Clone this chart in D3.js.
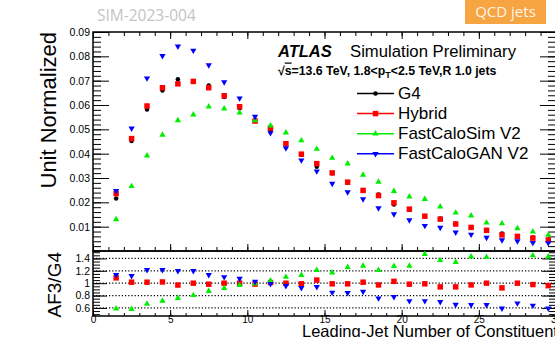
<!DOCTYPE html>
<html>
<head>
<meta charset="utf-8">
<script src="https://cdn.jsdelivr.net/npm/d3@7"></script>
<style>
  body { margin: 0; background: #fff; }
  text { font-family: "Liberation Sans", Arial, sans-serif; }
</style>
</head>
<body>
<svg id="chart" width="555" height="337"></svg>
<script>
// bin centres (leading-jet number of constituents)
const binCenters = [1.5, 2.5, 3.5, 4.5, 5.5, 6.5, 7.5, 8.5, 9.5, 10.5, 11.5, 12.5, 13.5, 14.5, 15.5,
    16.5, 17.5, 18.5, 19.5, 20.5, 21.5, 22.5, 23.5, 24.5, 25.5, 26.5, 27.5, 28.5, 29.5];

// unit normalized distributions
const g4 = [0.0216, 0.0452, 0.0582, 0.0660, 0.0706, 0.0695, 0.0680, 0.0633, 0.0587, 0.0536, 0.0496,
    0.0440, 0.0396, 0.0346, 0.0320, 0.0280, 0.0248, 0.0232, 0.0191, 0.0170, 0.0144, 0.0134, 0.0112,
    0.0098, 0.0086, 0.0072, 0.0061, 0.0055, 0.0046];
const hybrid = [0.0236, 0.0462, 0.0596, 0.0671, 0.0687, 0.0697, 0.0671, 0.0638, 0.0593, 0.0534, 0.0505,
    0.0441, 0.0398, 0.0359, 0.0321, 0.0283, 0.0249, 0.0228, 0.0198, 0.0172, 0.0143, 0.0131, 0.0111,
    0.0097, 0.0085, 0.0066, 0.0060, 0.0053, 0.0045];
const fastCaloSim = [0.0130, 0.0266, 0.0392, 0.0477, 0.0537, 0.0560, 0.0593, 0.0585, 0.0568, 0.0537, 0.0515,
    0.0486, 0.0454, 0.0419, 0.0382, 0.0359, 0.0313, 0.0284, 0.0246, 0.0223, 0.0213, 0.0182, 0.0157,
    0.0145, 0.0116, 0.0113, 0.0093, 0.0079, 0.0066];
const fastCaloGAN = [0.0247, 0.0504, 0.0710, 0.0802, 0.0841, 0.0824, 0.0764, 0.0694, 0.0628, 0.0552, 0.0485,
    0.0423, 0.0373, 0.0328, 0.0277, 0.0242, 0.0213, 0.0176, 0.0152, 0.0127, 0.0104, 0.0096, 0.0077,
    0.0068, 0.0055, 0.0045, 0.0041, 0.0034, 0.0033];

// ratios AF3 / G4
const ratioHybrid = [1.086, 1.016, 1.016, 1.02, 0.97, 1.0, 0.984, 1.0, 1.0, 0.985, 1.01, 1.0, 0.99, 1.05,
    0.99, 0.99, 1.016, 0.972, 1.03, 0.984, 0.99, 0.94, 0.94, 0.972, 1.0, 0.924, 1.0, 0.978, 0.96];
const ratioFastCaloSim = [0.59, 0.58, 0.665, 0.713, 0.757, 0.805, 0.87, 0.92, 0.968, 0.99, 1.04, 1.10, 1.13,
    1.21, 1.17, 1.26, 1.28, 1.21, 1.275, 1.28, 1.47, 1.37, 1.34, 1.43, 1.42, 1.58, 1.55, 1.447, 1.43];
const ratioFastCaloGAN = [1.134, 1.12, 1.215, 1.215, 1.2, 1.2, 1.134, 1.10, 1.075, 1.026, 0.99, 0.956, 0.924,
    0.94, 0.85, 0.843, 0.864, 0.757, 0.78, 0.713, 0.713, 0.70, 0.654, 0.65, 0.65, 0.594, 0.676, 0.64, 0.594];

const xTicks = [0, 5, 10, 15, 20, 25, 30];
const yTicksMain = [0.01, 0.02, 0.03, 0.04, 0.05, 0.06, 0.07, 0.08, 0.09];
const yTicksRatio = [0.6, 0.8, 1, 1.2, 1.4];
const legendLabels = ["G4", "Hybrid", "FastCaloSim V2", "FastCaloGAN V2"];

// ---- layout
const LEFT = 93, RIGHT = 556;
const TOP = 32, MID = 251, BOTTOM = 316;

var svg = d3.select("#chart");
svg.append("rect").attr("width", 555).attr("height", 337).attr("fill", "#fff");

var x = d3.scaleLinear().domain([0, 30]).range([LEFT, RIGHT]);
var yMain = d3.scaleLinear().domain([0, 0.09]).range([MID, TOP]);
var yRatio = d3.scaleLinear().domain([0.47, 1.52]).range([BOTTOM, MID]);

function styleAxis(g) {
    g.select(".domain").remove();
    g.selectAll(".tick line").attr("stroke", "#000").attr("stroke-width", 1);
    g.selectAll(".tick text").attr("fill", "#000").style("font-size", "10.5px")
        .style("font-family", "'Liberation Sans', Arial, sans-serif");
}

function minorRange(a, b, step) {
    return d3.range(Math.round(a / step), Math.round(b / step) + 1).map(function (i) { return +(i * step).toFixed(4); });
}

// ---- upper pad axes
svg.append("g").attr("transform", "translate(" + LEFT + ",0)")
    .call(d3.axisLeft(yMain).tickValues(yTicksMain).tickSize(-16).tickPadding(3).tickFormat(d3.format(".2f")))
    .call(styleAxis);
svg.append("g").attr("transform", "translate(" + LEFT + ",0)")
    .call(d3.axisLeft(yMain).tickValues(minorRange(0, 0.09, 0.002)).tickSize(-8).tickFormat(""))
    .call(styleAxis);
svg.append("g").attr("transform", "translate(" + RIGHT + ",0)")
    .call(d3.axisRight(yMain).tickValues(yTicksMain).tickSize(-16).tickFormat(""))
    .call(styleAxis);
svg.append("g").attr("transform", "translate(" + RIGHT + ",0)")
    .call(d3.axisRight(yMain).tickValues(minorRange(0, 0.09, 0.002)).tickSize(-8).tickFormat(""))
    .call(styleAxis);

[[TOP, d3.axisTop], [MID, d3.axisBottom]].forEach(function (p) {
    svg.append("g").attr("transform", "translate(0," + p[0] + ")")
        .call(p[1](x).tickValues(xTicks).tickSize(-7).tickFormat(""))
        .call(styleAxis);
    svg.append("g").attr("transform", "translate(0," + p[0] + ")")
        .call(p[1](x).tickValues(d3.range(0, 31)).tickSize(-4).tickFormat(""))
        .call(styleAxis);
});

// ---- lower pad axes
svg.append("g").attr("transform", "translate(" + LEFT + ",0)")
    .call(d3.axisLeft(yRatio).tickValues(yTicksRatio).tickSize(-14).tickPadding(3).tickFormat(d3.format("")))
    .call(styleAxis);
svg.append("g").attr("transform", "translate(" + LEFT + ",0)")
    .call(d3.axisLeft(yRatio).tickValues(minorRange(0.5, 1.5, 0.05)).tickSize(-7).tickFormat(""))
    .call(styleAxis);
svg.append("g").attr("transform", "translate(" + RIGHT + ",0)")
    .call(d3.axisRight(yRatio).tickValues(yTicksRatio).tickSize(-14).tickFormat(""))
    .call(styleAxis);
svg.append("g").attr("transform", "translate(" + RIGHT + ",0)")
    .call(d3.axisRight(yRatio).tickValues(minorRange(0.5, 1.5, 0.05)).tickSize(-7).tickFormat(""))
    .call(styleAxis);
svg.append("g").attr("transform", "translate(0," + BOTTOM + ")")
    .call(d3.axisBottom(x).tickValues(xTicks).tickSize(-6).tickPadding(0).tickFormat(d3.format("d")))
    .call(styleAxis)
    .call(function (g) { g.selectAll(".tick text").style("font-size", "10px"); });
svg.append("g").attr("transform", "translate(0," + BOTTOM + ")")
    .call(d3.axisBottom(x).tickValues(d3.range(0, 31)).tickSize(-3).tickFormat(""))
    .call(styleAxis);

// dotted reference lines in the ratio pad
svg.append("g").selectAll("line").data(yTicksRatio).join("line")
    .attr("x1", LEFT).attr("x2", RIGHT)
    .attr("y1", function (d) { return yRatio(d); }).attr("y2", function (d) { return yRatio(d); })
    .attr("stroke", "#000").attr("stroke-width", 1.3).attr("stroke-dasharray", "1.2,2");

// frames
svg.append("rect").attr("x", LEFT).attr("y", TOP).attr("width", RIGHT - LEFT).attr("height", MID - TOP)
    .attr("fill", "none").attr("stroke", "#000").attr("stroke-width", 1.5);
svg.append("rect").attr("x", LEFT).attr("y", MID).attr("width", RIGHT - LEFT).attr("height", BOTTOM - MID)
    .attr("fill", "none").attr("stroke", "#000").attr("stroke-width", 1.5);

// ---- markers
const styles = [
    { color: "#000000", shape: d3.symbolCircle, size: 16, rot: 0 },
    { color: "#ff0000", shape: d3.symbolSquare, size: 30, rot: 0 },
    { color: "#00ee00", shape: d3.symbolTriangle, size: 17, rot: 0 },
    { color: "#0000ff", shape: d3.symbolTriangle, size: 17, rot: 180 }
];

function drawPoints(parent, values, yScale, st) {
    var sym = d3.symbol().type(st.shape).size(st.size);
    parent.append("g").selectAll("path").data(values).join("path")
        .attr("d", sym)
        .attr("fill", st.color)
        .attr("transform", function (d, i) {
            return "translate(" + x(binCenters[i]) + "," + yScale(d) + ") rotate(" + st.rot + ")";
        });
}

var upper = svg.append("g");
[g4, hybrid, fastCaloSim, fastCaloGAN].forEach(function (vals, k) {
    drawPoints(upper, vals, yMain, styles[k]);
});

svg.append("clipPath").attr("id", "ratioClip").append("rect")
    .attr("x", LEFT).attr("y", MID).attr("width", RIGHT - LEFT).attr("height", BOTTOM - MID);
var lower = svg.append("g").attr("clip-path", "url(#ratioClip)");
[ratioHybrid, ratioFastCaloSim, ratioFastCaloGAN].forEach(function (vals, k) {
    drawPoints(lower, vals, yRatio, styles[k + 1]);
});

// ---- legend
var legend = svg.append("g");
legendLabels.forEach(function (lab, i) {
    var ly = 93.5 + i * 20.1;
    legend.append("line").attr("x1", 357).attr("x2", 394).attr("y1", ly).attr("y2", ly)
        .attr("stroke", styles[i].color).attr("stroke-width", 1.5);
    legend.append("path").attr("d", d3.symbol().type(styles[i].shape).size(styles[i].size)())
        .attr("fill", styles[i].color)
        .attr("transform", "translate(375.5," + ly + ") rotate(" + styles[i].rot + ")");
    legend.append("text").attr("x", 398).attr("y", ly + 5.5).style("font-size", "17px").text(lab);
});

// ---- ATLAS label
svg.append("text").attr("x", 278).attr("y", 57).style("font-size", "16.5px")
    .style("font-weight", "bold").style("font-style", "italic").text("ATLAS");
svg.append("text").attr("x", 350).attr("y", 57).style("font-size", "16.7px").text("Simulation Preliminary");
var sub = svg.append("text").attr("x", 278).attr("y", 74.5).style("font-size", "12.3px").style("font-weight", "bold");
sub.append("tspan").text("√");
sub.append("tspan").style("text-decoration", "overline").text("s");
sub.append("tspan").text("=13.6 TeV, 1.8<p");
sub.append("tspan").attr("dy", 3).style("font-size", "9px").text("T");
sub.append("tspan").attr("dy", -3).text("<2.5 TeV,R 1.0 jets");

// ---- axis titles
svg.append("text").attr("transform", "translate(56," + TOP + ") rotate(-90)")
    .attr("text-anchor", "end").style("font-size", "22px").text("Unit Normalized");
svg.append("text").attr("transform", "translate(61,252) rotate(-90)")
    .attr("text-anchor", "end").style("font-size", "19px").text("AF3/G4");
svg.append("text").attr("x", 302).attr("y", 337).style("font-size", "16.5px")
    .text("Leading-Jet Number of Constituents");

// ---- header badges
svg.append("text").attr("x", 97).attr("y", 21).attr("fill", "#c4c4c4")
    .style("font-family", "'Open Sans', sans-serif").style("font-size", "15.5px").text("SIM-2023-004");
svg.append("rect").attr("x", 465).attr("y", 0).attr("width", 81).attr("height", 24).attr("fill", "#f7a443");
svg.append("text").attr("x", 505.5).attr("y", 17).attr("text-anchor", "middle").attr("fill", "#fff4e8")
    .style("font-family", "'Open Sans', sans-serif").style("font-size", "15px").text("QCD jets");
</script>
</body>
</html>
